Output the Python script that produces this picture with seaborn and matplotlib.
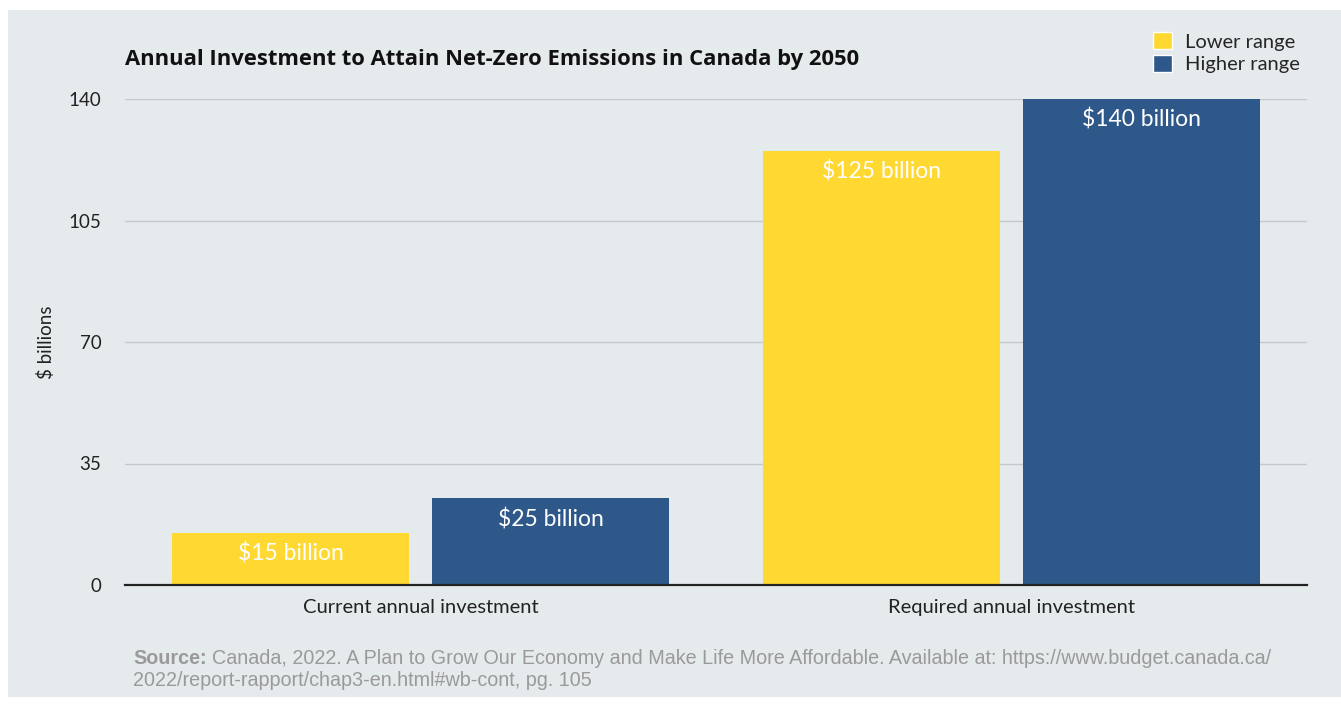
import matplotlib
matplotlib.use("Agg")
import matplotlib.pyplot as plt
from matplotlib.patches import Patch, Rectangle
import seaborn as sns
import pandas as pd

categories = ["Current annual investment", "Required annual investment"]
series_names = ["Lower range", "Higher range"]
lower_values = [15, 125]
higher_values = [25, 140]
yticks = [0, 35, 70, 105, 140]

BG = "#e5eaed"
YELLOW = "#ffd832"
BLUE = "#2e588a"

df = pd.DataFrame({
    "category": categories * 2,
    "series": [series_names[0]] * 2 + [series_names[1]] * 2,
    "value": lower_values + higher_values,
})

sns.set_theme(style="white")
plt.rcParams["font.family"] = ["Lato", "DejaVu Sans"]

fig = plt.figure(figsize=(13.41, 7.07), dpi=100)
fig.patch.set_facecolor("white")
fig.patches.append(Rectangle((8 / 1341, 10 / 707), 1 - 8 / 1341, 687 / 707,
                             transform=fig.transFigure, facecolor=BG,
                             edgecolor="none", zorder=-10))

ax = fig.add_axes([125 / 1341, 1 - 585 / 707, 1182 / 1341, 486 / 707])
ax.set_facecolor(BG)
ax.patch.set_alpha(0)

sns.barplot(data=df, x="category", y="value", hue="series",
            palette=[YELLOW, BLUE], width=0.88, gap=0.09,
            saturation=1, legend=False, ax=ax, zorder=3, linewidth=0,
            edgecolor="none")

ax.set_xlim(-0.5, 1.5)
ax.set_ylim(0, 140)
ax.set_yticks(yticks)
ax.set_yticklabels([str(t) for t in yticks], fontsize=13.5, color="#222222")
ax.tick_params(axis="y", length=0, pad=17)
ax.tick_params(axis="x", length=0, pad=10, labelsize=14.5, labelcolor="#222222")
ax.yaxis.grid(True, color="#c4c8cb", linewidth=1)
ax.set_axisbelow(True)
for s in ["top", "right", "left"]:
    ax.spines[s].set_visible(False)
ax.spines["bottom"].set_color("#222222")
ax.spines["bottom"].set_linewidth(1.6)
ax.spines["bottom"].set_zorder(5)
ax.set_xlabel("")
ax.set_ylabel("$ billions", fontsize=13.5, color="#222222", labelpad=10)

for container in ax.containers:
    for patch in container:
        h = patch.get_height()
        ax.annotate(f"${h:.0f} billion", (patch.get_x() + patch.get_width() / 2, h),
                    xytext=(0, -15), textcoords="offset points",
                    ha="center", va="center", color="white", fontsize=16.5, zorder=6)

fig.text(125 / 1341, 1 - 60 / 707, "Annual Investment to Attain Net-Zero Emissions in Canada by 2050",
         fontsize=15.8, fontweight="bold", color="#111111", va="center", ha="left",
         family=["Open Sans", "DejaVu Sans"])

handles = [Patch(facecolor=YELLOW, label=series_names[0]),
           Patch(facecolor=BLUE, label=series_names[1])]
fig.legend(handles=handles, loc="upper right", bbox_to_anchor=(1310 / 1341, 1 - 22 / 707),
           frameon=False, fontsize=14.5, handlelength=0.95, handleheight=0.95,
           handletextpad=0.65, labelspacing=0.2, borderpad=0)

src_font = ["Liberation Sans Narrow", "Liberation Sans", "DejaVu Sans"]
fig.text(133 / 1341, 1 - 658 / 707, "Source:", fontsize=14.2, fontweight="bold",
         color="#9a9a9a", family=src_font, va="center", ha="left")
fig.text(212 / 1341, 1 - 658 / 707,
         "Canada, 2022. A Plan to Grow Our Economy and Make Life More Affordable. Available at: https://www.budget.canada.ca/",
         fontsize=14.2, color="#9a9a9a", family=src_font, va="center", ha="left")
fig.text(133 / 1341, 1 - 680 / 707, "2022/report-rapport/chap3-en.html#wb-cont, pg. 105",
         fontsize=14.2, color="#9a9a9a", family=src_font, va="center", ha="left")

fig.savefig("out.png", dpi=100, facecolor="white")
